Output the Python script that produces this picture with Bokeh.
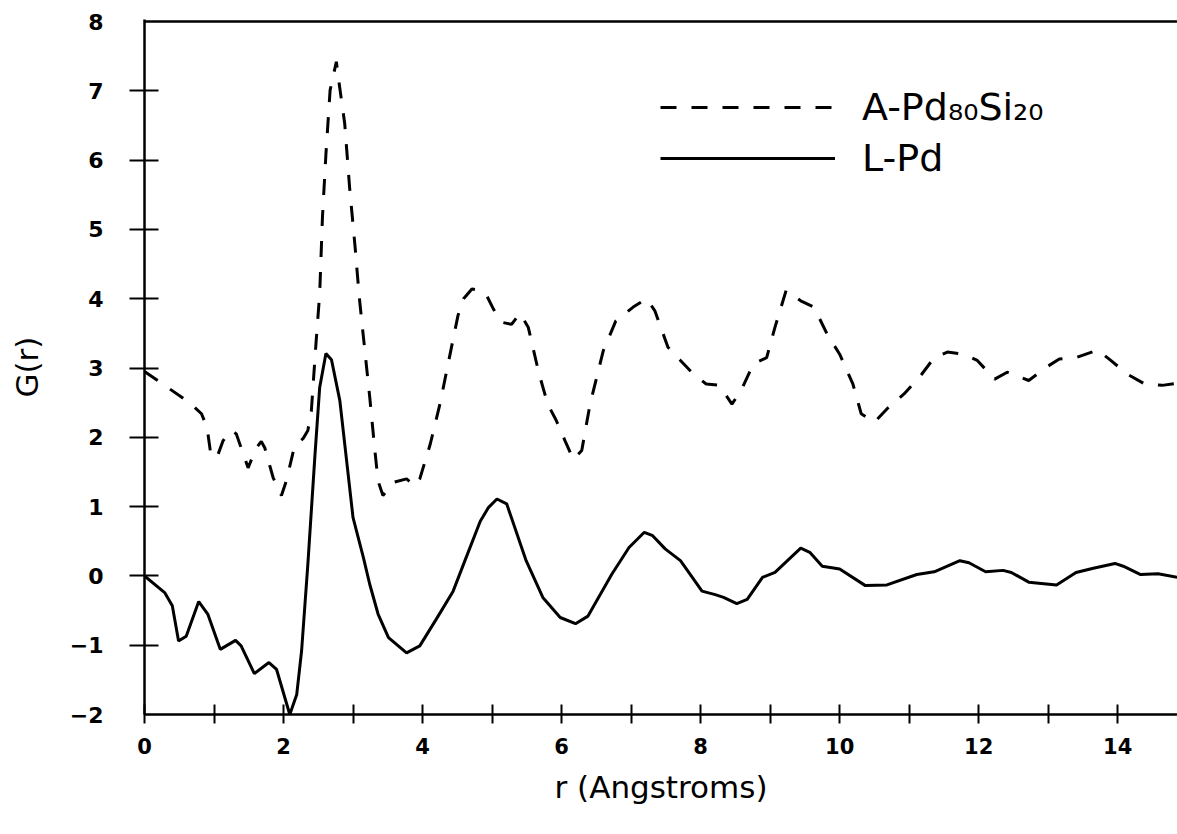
import numpy as np
from bokeh.plotting import figure
from bokeh.models import (Range1d, FixedTicker, Legend, LegendItem, Span, LinearAxis)
from bokeh.embed import file_html
from bokeh.resources import INLINE

# ---------------- data ----------------
r_lpd = [0.00, 0.29, 0.40, 0.49, 0.60, 0.78, 0.91, 1.09, 1.31, 1.39, 1.58, 1.79, 1.90,
         2.09, 2.19, 2.26, 2.35, 2.45, 2.52, 2.61, 2.69, 2.81, 3.00, 3.15, 3.24, 3.36,
         3.51, 3.77, 3.96, 4.20, 4.44, 4.59, 4.83, 4.95, 5.07, 5.21, 5.49, 5.73, 5.98,
         6.20, 6.38, 6.72, 6.97, 7.19, 7.31, 7.49, 7.71, 8.02, 8.21, 8.33, 8.52, 8.67,
         8.89, 9.07, 9.44, 9.57, 9.75, 10.00, 10.37, 10.68, 11.11, 11.36, 11.73, 11.86,
         12.10, 12.35, 12.47, 12.72, 13.12, 13.40, 13.65, 13.96, 14.08, 14.33, 14.58, 14.86]
g_lpd = [0.00, -0.24, -0.43, -0.94, -0.87, -0.37, -0.55, -1.06, -0.93, -1.01, -1.41, -1.25, -1.35,
         -2.00, -1.71, -1.08, 0.17, 1.71, 2.72, 3.21, 3.12, 2.53, 0.84, 0.26, -0.12, -0.55,
         -0.89, -1.11, -1.01, -0.62, -0.22, 0.17, 0.79, 0.99, 1.11, 1.04, 0.22, -0.31, -0.60,
         -0.69, -0.58, 0.02, 0.41, 0.63, 0.58, 0.39, 0.22, -0.22, -0.27, -0.31, -0.40, -0.34,
         -0.02, 0.05, 0.40, 0.34, 0.14, 0.10, -0.14, -0.13, 0.02, 0.06, 0.22, 0.19,
         0.06, 0.08, 0.05, -0.09, -0.13, 0.05, 0.11, 0.18, 0.14, 0.02, 0.03, -0.02]

r_apd = [0.00, 0.65, 0.82, 0.90, 0.96, 1.06, 1.13, 1.25, 1.32, 1.49, 1.61, 1.68, 1.73,
         1.85, 1.97, 2.04, 2.16, 2.28, 2.35, 2.40, 2.47, 2.52, 2.56, 2.61, 2.67, 2.76,
         2.79, 2.88, 2.95, 3.03, 3.09, 3.15, 3.24, 3.31, 3.36, 3.43, 3.58, 3.77, 3.89,
         3.96, 4.11, 4.25, 4.42, 4.51, 4.59, 4.71, 4.83, 4.92, 5.02, 5.14, 5.28, 5.40,
         5.52, 5.67, 5.80, 5.92, 6.05, 6.17, 6.29, 6.41, 6.60, 6.78, 7.03, 7.22, 7.34,
         7.53, 7.71, 7.90, 8.08, 8.27, 8.45, 8.58, 8.76, 8.95, 9.07, 9.23, 9.44, 9.63,
         9.82, 10.00, 10.19, 10.31, 10.50, 10.68, 10.93, 11.18, 11.36, 11.55, 11.79, 11.98,
         12.23, 12.41, 12.72, 12.97, 13.16, 13.40, 13.71, 13.90, 14.14, 14.39, 14.64, 14.86]
g_apd = [2.95, 2.50, 2.34, 2.14, 1.71, 1.76, 1.95, 2.10, 2.05, 1.56, 1.85, 1.94, 1.85,
         1.42, 1.16, 1.37, 1.88, 1.98, 2.10, 2.38, 3.40, 4.07, 5.18, 6.09, 7.01, 7.42,
         7.18, 6.53, 5.61, 4.74, 4.02, 3.44, 2.58, 1.85, 1.37, 1.16, 1.35, 1.40, 1.30,
         1.40, 1.90, 2.48, 3.32, 3.76, 4.00, 4.14, 4.12, 4.05, 3.85, 3.66, 3.63, 3.79,
         3.59, 2.94, 2.48, 2.25, 1.95, 1.68, 1.81, 2.48, 3.25, 3.68, 3.88, 4.00, 3.83,
         3.30, 3.11, 2.91, 2.77, 2.75, 2.48, 2.67, 3.06, 3.15, 3.59, 4.12, 3.97, 3.88,
         3.49, 3.20, 2.77, 2.34, 2.22, 2.41, 2.63, 2.91, 3.15, 3.23, 3.20, 3.11,
         2.84, 2.94, 2.82, 3.01, 3.13, 3.15, 3.26, 3.11, 2.91, 2.77, 2.75, 2.78]

series_names = ["A-Pd\u2088\u2080Si\u2082\u2080", "L-Pd"]
x_major_ticks = [0, 2, 4, 6, 8, 10, 12, 14]
x_minor_ticks = [1, 3, 5, 7, 9, 11, 13]
y_tick_marks = [-1, 0, 1, 2, 3, 4, 5, 6, 7]
y_label_values = [-2, -1, 0, 1, 2, 3, 4, 5, 6, 7, 8]
x_title = "r (Angstroms)"
y_title = "G(r)"

# ---------------- figure ----------------
FONT = "DejaVu Sans"
p = figure(width=1177, height=834, output_backend="svg", toolbar_location=None,
           x_range=Range1d(0, 14.86), y_range=Range1d(-2, 8.03),
           min_border_left=144, min_border_right=0, min_border_top=19,
           min_border_bottom=120)
p.grid.visible = False
p.outline_line_color = None
p.background_fill_color = "white"
p.border_fill_color = "white"

# top frame line
p.add_layout(Span(location=8, dimension="width", line_color="black", line_width=2.5))

# x axis
xa = p.xaxis[0]
xa.ticker = FixedTicker(ticks=x_major_ticks, minor_ticks=x_minor_ticks)
xa.axis_line_width = 2.5
xa.axis_line_color = "black"
xa.major_tick_in = 10
xa.major_tick_out = 9
xa.minor_tick_in = 10
xa.minor_tick_out = 9
xa.major_tick_line_width = 2
xa.minor_tick_line_width = 2
xa.major_tick_line_color = "black"
xa.minor_tick_line_color = "black"
xa.major_label_text_font = FONT
xa.major_label_text_font_size = "21px"
xa.major_label_text_font_style = "bold"
xa.major_label_text_color = "black"
xa.major_label_standoff = 14
xa.axis_label = x_title
xa.axis_label_text_font = FONT
xa.axis_label_text_font_size = "31px"
xa.axis_label_text_font_style = "normal"
xa.axis_label_text_color = "black"
xa.axis_label_standoff = 12

# y axis: ticks only (innermost)
ya = p.yaxis[0]
ya.ticker = FixedTicker(ticks=y_tick_marks)
ya.axis_line_width = 2.5
ya.axis_line_color = "black"
ya.major_tick_in = 14
ya.major_tick_out = 15
ya.major_tick_line_width = 2
ya.major_tick_line_color = "black"
ya.minor_tick_line_color = None
ya.major_label_overrides = {v: "" for v in y_tick_marks}
ya.major_label_standoff = 0

# y axis: labels (outer)
ya2 = LinearAxis(ticker=FixedTicker(ticks=y_label_values))
ya2.axis_line_color = None
ya2.major_tick_line_color = None
ya2.minor_tick_line_color = None
ya2.major_tick_in = 0
ya2.major_tick_out = 0
ya2.major_label_standoff = 26
ya2.major_label_text_font = FONT
ya2.major_label_text_font_size = "22px"
ya2.major_label_text_font_style = "bold"
ya2.major_label_text_color = "black"
ya2.axis_label = y_title
ya2.axis_label_text_font = FONT
ya2.axis_label_text_font_size = "31px"
ya2.axis_label_text_font_style = "normal"
ya2.axis_label_text_color = "black"
ya2.axis_label_standoff = 22
p.add_layout(ya2, "left")

# curves
r1 = p.line(r_apd, g_apd, line_color="black", line_width=3, line_dash="16 15")
r2 = p.line(r_lpd, g_lpd, line_color="black", line_width=3)

legend = Legend(items=[LegendItem(label=series_names[0], renderers=[r1]),
                       LegendItem(label=series_names[1], renderers=[r2])],
                location=(516, 534), glyph_width=175, glyph_height=40,
                label_height=40, spacing=7, label_standoff=27, padding=0, margin=0,
                border_line_color=None, background_fill_alpha=0,
                label_text_font=FONT, label_text_font_size="38px",
                label_text_color="black")
p.add_layout(legend)

open("out.html", "w").write(file_html(p, INLINE))
